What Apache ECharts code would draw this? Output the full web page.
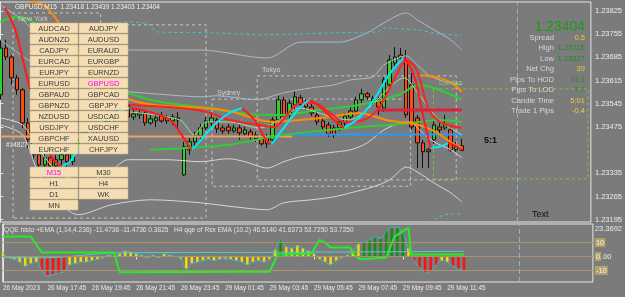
<!DOCTYPE html>
<html><head><meta charset="utf-8">
<script src="https://cdn.jsdelivr.net/npm/echarts/dist/echarts.min.js"></script>
<style>html,body{margin:0;padding:0;background:#7b7b7b;}#c{width:625px;height:297px;}</style>
</head><body><div id="c"></div>
<script>
// ---------- DATA ----------
const timeLabels = ['26 May 2023','26 May 17:45','26 May 19:45','26 May 21:45','26 May 23:45','29 May 01:45','29 May 03:45','29 May 05:45','29 May 07:45','29 May 09:45','29 May 11:45'];
const timeTickIdx = [0,8,16,24,32,40,48,56,64,72,80];
const priceTicks = [1.23195,1.23265,1.23335,1.23475,1.23545,1.23615,1.23685,1.23755,1.23825];
const lastPrice = 1.23404;
const nowBar = 93;
// candles: [open, close, low, high]
const candles = [
[1.23572,1.23713,1.23557,1.23738],[1.23713,1.23686,1.23677,1.23738],[1.23686,1.23623,1.23602,1.23692],[1.23623,1.23587,1.23572,1.23632],
[1.23587,1.23487,1.23472,1.23593],[1.23487,1.23436,1.23412,1.23502],[1.23436,1.23391,1.23376,1.23451],[1.23391,1.23360,1.23345,1.23406],
[1.23360,1.23382,1.23339,1.23400],[1.23382,1.23357,1.23330,1.23391],[1.23357,1.23376,1.23345,1.23391],[1.23376,1.23391,1.23360,1.23406],
[1.23391,1.23370,1.23351,1.23406],[1.23370,1.23406,1.23360,1.23421],[1.23406,1.23436,1.23397,1.23451],[1.23436,1.23460,1.23421,1.23472],
[1.23460,1.23442,1.23430,1.23472],[1.23442,1.23472,1.23436,1.23484],[1.23472,1.23490,1.23460,1.23502],[1.23490,1.23478,1.23466,1.23502],
[1.23478,1.23502,1.23472,1.23520],[1.23502,1.23520,1.23496,1.23532],[1.23520,1.23541,1.23511,1.23557],[1.23541,1.23505,1.23496,1.23566],
[1.23505,1.23514,1.23496,1.23532],[1.23511,1.23517,1.23499,1.23526],[1.23517,1.23487,1.23478,1.23526],[1.23487,1.23499,1.23481,1.23511],
[1.23493,1.23502,1.23475,1.23517],[1.23508,1.23493,1.23487,1.23520],[1.23493,1.23502,1.23484,1.23511],[1.23493,1.23505,1.23481,1.23514],
[1.23502,1.23496,1.23472,1.23520],[1.23330,1.23415,1.23327,1.23430],[1.23406,1.23430,1.23391,1.23442],[1.23430,1.23448,1.23418,1.23460],
[1.23448,1.23472,1.23436,1.23484],[1.23472,1.23493,1.23466,1.23505],[1.23487,1.23502,1.23478,1.23520],[1.23496,1.23469,1.23457,1.23502],
[1.23472,1.23463,1.23454,1.23481],[1.23475,1.23463,1.23454,1.23484],[1.23463,1.23472,1.23457,1.23481],[1.23472,1.23457,1.23436,1.23481],
[1.23454,1.23466,1.23448,1.23475],[1.23460,1.23445,1.23436,1.23469],[1.23451,1.23439,1.23430,1.23460],[1.23439,1.23424,1.23418,1.23451],
[1.23424,1.23442,1.23412,1.23454],[1.23436,1.23496,1.23430,1.23505],[1.23496,1.23557,1.23490,1.23569],[1.23557,1.23505,1.23496,1.23566],
[1.23511,1.23547,1.23502,1.23557],[1.23541,1.23566,1.23526,1.23584],[1.23563,1.23544,1.23535,1.23572],[1.23547,1.23535,1.23526,1.23557],
[1.23535,1.23517,1.23508,1.23544],[1.23511,1.23490,1.23481,1.23526],[1.23493,1.23475,1.23466,1.23502],[1.23481,1.23454,1.23445,1.23490],
[1.23472,1.23451,1.23442,1.23481],[1.23472,1.23490,1.23463,1.23502],[1.23487,1.23508,1.23478,1.23517],[1.23505,1.23523,1.23499,1.23535],
[1.23523,1.23557,1.23517,1.23566],[1.23557,1.23575,1.23547,1.23590],[1.23575,1.23566,1.23557,1.23581],[1.23547,1.23560,1.23538,1.23569],
[1.23557,1.23535,1.23511,1.23566],[1.23532,1.23617,1.23520,1.23626],[1.23602,1.23677,1.23593,1.23692],[1.23668,1.23686,1.23659,1.23716],
[1.23692,1.23683,1.23671,1.23713],[1.23677,1.23511,1.23502,1.23707],[1.23602,1.23475,1.23466,1.23638],[1.23502,1.23427,1.23351,1.23511],
[1.23427,1.23400,1.23351,1.23436],[1.23406,1.23400,1.23351,1.23412],[1.23436,1.23481,1.23424,1.23496],[1.23475,1.23466,1.23451,1.23487],
[1.23472,1.23481,1.23466,1.23511],[1.23466,1.23406,1.23400,1.23475],[1.23406,1.23415,1.23400,1.23430],[1.23418,1.23404,1.23403,1.23439]
];
// indicator lines: [bar index, price]
const bandUpperOuter = [[0,1.23843],[4,1.23798],[7,1.23753],[14,1.23713],[23,1.23707],[36,1.23707],[48,1.23683],[54,1.23731],[61,1.23731],[66,1.23759],[69,1.23789],[73,1.23819],[75,1.23798],[78,1.23768],[81,1.23738],[83,1.23707]];
const bandUpperInner = [[0,1.23738],[5,1.23677],[11,1.23617],[18,1.23587],[23,1.23581],[30,1.23572],[36,1.23566],[39,1.23569],[46,1.23557],[51,1.23578],[56,1.23593],[60,1.23602],[63,1.23617],[67,1.23626],[69,1.23662],[72,1.23686],[73,1.23689],[75,1.23662],[77,1.23632],[80,1.23611],[83,1.23602]];
const bandLowerInner = [[0,1.23502],[4,1.23481],[7,1.23406],[11,1.23330],[16,1.23315],[20,1.23345],[23,1.23376],[30,1.23376],[36,1.23370],[41,1.23379],[44,1.23370],[48,1.23351],[51,1.23370],[54,1.23385],[59,1.23397],[63,1.23406],[66,1.23427],[69,1.23466],[72,1.23487],[74,1.23490],[75,1.23472],[78,1.23430],[81,1.23406],[83,1.23382]];
const bandLowerOuter = [[0,1.23481],[4,1.23451],[7,1.23330],[11,1.23240],[14,1.23210],[20,1.23240],[27,1.23255],[36,1.23246],[42,1.23234],[48,1.23225],[51,1.23246],[56,1.23255],[60,1.23264],[63,1.23276],[67,1.23294],[70,1.23315],[72,1.23345],[73,1.23354],[75,1.23339],[78,1.23306],[81,1.23276],[83,1.23249]];
const envUpperDashed = [[18,1.23783],[23,1.23792],[27,1.23783],[28,1.23762],[38,1.23759],[48,1.23753],[60,1.23759],[68,1.23762],[69,1.23774],[72,1.23771],[75,1.23768],[78,1.23759],[83,1.23750]];
const envLowerDashed = [[72,1.23120],[80,1.23210],[83,1.23213]];
const fastRising = [
 [[11.1,1.23357],[12.5,1.23370],[14.3,1.23415],[16.1,1.23457],[17.9,1.23490],[20.6,1.23517],[23.3,1.23532]],
 [[34.4,1.23406],[35.8,1.23430],[38.5,1.23481],[41.2,1.23517],[43.5,1.23532]],
 [[48.7,1.23421],[50.7,1.23466],[53.8,1.23532],[55.6,1.23557]],
 [[61.8,1.23472],[64.5,1.23502],[67.2,1.23557],[69.9,1.23632],[72.6,1.23686]],
 [[77.4,1.23412],[78.9,1.23415],[80.6,1.23427]]
];
const fastFalling = [
 [[0.9,1.23834],[2.7,1.23768],[4.5,1.23647],[6.3,1.23526],[8.1,1.23421],[9.9,1.23370],[11.1,1.23357]],
 [[23.3,1.23532],[26.9,1.23520],[30.5,1.23496],[33.2,1.23436],[34.4,1.23406]],
 [[43.5,1.23532],[45.7,1.23496],[47.8,1.23436],[48.7,1.23421]],
 [[55.6,1.23557],[57.3,1.23538],[60,1.23496],[61.8,1.23472]],
 [[72.6,1.23686],[74.4,1.23632],[76.2,1.23496],[77.4,1.23412]],
 [[80.6,1.23427],[81.9,1.23418],[83,1.23406]]
];
const slowLine = [[23.3,1.23541],[32.3,1.23532],[37.1,1.23520],[41.2,1.23496],[46.6,1.23481],[49.3,1.23475],[52,1.23520],[53.8,1.23547],[56.5,1.23547],[59.1,1.23520],[61.8,1.23490],[65.4,1.23496],[68.1,1.23532],[70.8,1.23617],[73.1,1.23677],[74.9,1.23647],[77.1,1.23526],[79.4,1.23487],[83,1.23472]];
const paleMA = [[23.3,1.23520],[32.3,1.23496],[34.9,1.23451],[37.1,1.23490],[41.2,1.23490],[46.6,1.23472],[50.2,1.23496],[53.8,1.23532],[59.1,1.23508],[62.7,1.23496],[66.3,1.23532],[69.9,1.23593],[72.6,1.23623],[75.3,1.23572],[78.9,1.23496],[83,1.23451]];
const orangeMA = [[5.4,1.23852],[7.7,1.23843],[9.5,1.23813],[12.5,1.23738],[16.1,1.23647],[19.7,1.23587],[23.3,1.23557],[27.8,1.23541],[32.8,1.23535],[37.1,1.23532],[41.8,1.23520],[46.6,1.23496],[49.3,1.23490],[53.8,1.23496],[59.1,1.23505],[64.5,1.23517],[69.4,1.23496],[71.7,1.23490],[75.3,1.23481],[78.3,1.23460],[81.2,1.23427],[83,1.23412]];
const orangeShort = [[75.8,1.23632],[78.9,1.23623],[81.2,1.23608],[83,1.23581]];
const greenSlow = [[0,1.23792],[2.7,1.23807],[5.4,1.23798],[10.8,1.23722],[17.9,1.23617],[26.9,1.23557],[35.8,1.23535],[44.8,1.23514],[50.2,1.23511],[57.3,1.23526],[64.5,1.23541],[71.7,1.23572],[75.3,1.23602],[78.9,1.23587],[83,1.23557]];
const greenLow = [[26.9,1.23406],[34.1,1.23412],[41.2,1.23421],[48.9,1.23445],[55.6,1.23460],[62.7,1.23472],[69.9,1.23481],[75.3,1.23490],[78.9,1.23496],[83,1.23490]];
const pivotFriday = [[0,1.23446],[52.5,1.23446]];
const pivotMonday = [[52.5,1.23452],[83,1.23452]];
const dayLevelRed = [[68,1.23526],[83,1.23526]];
// session boxes [bar index, price]
const boxNewYork = [[2.3,1.23200],[2.3,1.23819],[18.05,1.23819],[18.05,1.23783],[37,1.23783],[37,1.23200],[2.3,1.23200]];
const boxSydney = [[38.1,1.23559],[73.8,1.23559],[73.8,1.23296],[38.1,1.23296],[38.1,1.23559]];
const boxTokyo = [[46.2,1.23629],[82,1.23629],[82,1.23315],[46.2,1.23315],[46.2,1.23629]];
const boxLondon = [[77.9,1.23590],[105.7,1.23590],[105.7,1.23318],[77.9,1.23318],[77.9,1.23590]];
// lower pane: QQE histogram
const qqeHisto = [3,-1,-2,-4,-7,-5,-4,-10,-14,-13,-12,-11,-6,-5,-4,-4,-3,-2,-1,1,0,2,4,3,2,1,-1,1,-1,2,1,0,-1,-9,-5,-4,-3,-2,-3,-2,-1,-2,-3,-4,-6,-4,-3,-4,-2,5,12,7,6,8,6,4,2,-2,-4,-6,-3,-1,1,4,9,10,12,14,13,18,21,21,17,6,-3,-8,-12,-11,-6,-3,-4,-7,-9,-10];
// 0 neutral, 1 bearish, 2 bullish
const qqeState = [0,0,0,0,0,0,0,1,1,1,1,1,0,0,0,0,0,0,0,0,0,0,0,0,0,0,0,0,0,0,0,0,0,0,0,0,0,0,0,0,0,0,0,0,0,0,0,0,0,0,2,0,0,0,0,0,0,0,0,0,0,0,0,0,0,2,2,2,2,2,2,2,2,0,1,1,1,1,1,0,0,1,1,1];
const qqeTrail = [[0,14.3],[5,14.3],[7,2.9],[20,2.9],[21,-11.4],[48,-11],[49.5,1.4],[55.5,2],[57,12],[58,10],[59,6.4],[62.5,6.4],[63.5,0],[64.5,-2],[69,-0.7],[70.5,14.3],[73,20.7],[73.5,1.4],[83,1.4]];
const qqeSignal = [[0,-0.7],[7,-1],[12,0],[20,2.6],[50,3],[83,3.7]];
const qqeLevels = [10,0,-10];
const qqeRange = [-18.3696, 23.3692];
// panels
const symbols = ['AUDCAD','AUDJPY','AUDNZD','AUDUSD','CADJPY','EURAUD','EURCAD','EURGBP','EURJPY','EURNZD','EURUSD','GBPUSD','GBPAUD','GBPCAD','GBPNZD','GBPJPY','NZDUSD','USDCAD','USDJPY','USDCHF','GBPCHF','XAUUSD','EURCHF','CHFJPY'];
const timeframes = ['M15','M30','H1','H4','D1','WK','MN'];
const activeSymbol = 'GBPUSD', activeTf = 'M15';
const infoLabels = ['Spread','High','Low','Net Chg','Pips To HOD','Pips To LOD','Candle Time','Trade 1 Pips'];
const infoValues = ['0.5','1.23716','1.23327','39','31.1','7.7','5:01','-0.4'];
const infoKind = ['y','g','g','y','g','g','y','y'];
const headerText = 'GBPUSD,M15  1.23418 1.23439 1.23403 1.23404';
const qqeHeader = 'QQE histo +EMA (1,14,4.236) -11.4736 -11.4736 0.3825   H4 qqe of Rsx EMA (10.2) 46.5140 41.6373 53.7250 53.7250';

// ---------- CHART ----------
const FONT = '"Liberation Sans", Arial, sans-serif';
const chart = echarts.init(document.getElementById('c'), null, {renderer:'canvas'});
const XMIN = -0.054, XMAX = 106.22;
const lineS = (data, color, width, extra) => Object.assign({type:'line', xAxisIndex:0, yAxisIndex:0, data, showSymbol:false, symbol:'none', smooth:0.3, lineStyle:{color, width}, silent:true, z:3, clip:true}, extra||{});
const series = [];
series.push(lineS(bandUpperOuter,'#a8bccf',1));
series.push(lineS(bandUpperInner,'#a8bccf',1));
series.push(lineS(bandLowerInner,'#d6d6d6',1));
series.push(lineS(bandLowerOuter,'#d6d6d6',1));
series.push(lineS(envUpperDashed,'#3cc8c8',1,{lineStyle:{color:'#3cc8c8',width:1,type:[3,3]}}));
series.push(lineS(envLowerDashed,'#3cc8c8',1,{lineStyle:{color:'#3cc8c8',width:1,type:[3,3]}}));
series.push(lineS(pivotFriday,'#f0a060',2,{smooth:false}));
series.push(lineS(pivotMonday,'#1e9cff',2,{smooth:false}));
series.push(lineS(greenLow,'#33cc33',2));
series.push(lineS(greenSlow,'#33cc33',2));
series.push(lineS(paleMA,'#a6dca0',1));
series.push(lineS(orangeMA,'#ff8c00',2));
series.push(lineS(orangeShort,'#ff8c00',2));
series.push(lineS(slowLine,'#ff2020',2));
fastRising.forEach(seg=>series.push(lineS(seg,'#00e8ff',2)));
fastFalling.forEach(seg=>series.push(lineS(seg,'#ff1a1a',2)));
series.push(lineS(dayLevelRed,'#e0203a',3,{smooth:false}));
const boxStyle = (data,color)=>lineS(data,color,1,{smooth:false,lineStyle:{color,width:1,type:[3,3]},z:2});
series.push(boxStyle(boxNewYork,'#c8c8c8'));
series.push(boxStyle(boxSydney,'#c8c8c8'));
series.push(boxStyle(boxTokyo,'#c8c8c8'));
series.push(boxStyle(boxLondon,'#7fc24a'));
series.push({
  type:'candlestick', xAxisIndex:0, yAxisIndex:0, z:2,
  data: candles.map((c,i)=>[i,c[0],c[1],c[2],c[3]]),
  encode:{x:0,y:[1,2,3,4]}, barWidth:4,
  itemStyle:{color:'#2fd12f',color0:'#ff4a12',borderColor:'#111',borderColor0:'#111',borderWidth:1},
  markLine:{silent:true,symbol:'none',animation:false,data:[
    {yAxis:lastPrice, lineStyle:{color:'#35b035',type:[4,3],width:1},
     label:{show:true,position:'end',formatter:()=>lastPrice.toFixed(5),backgroundColor:'#ececdc',color:'#444',fontSize:7.5,fontFamily:FONT,padding:[1,2,1,2],distance:2}},
    {xAxis:nowBar, lineStyle:{color:'#8fb3d6',type:[5,3],width:1}, label:{show:false}}
  ]}
});
// lower pane
const stateColor = ['#ffd800','#ff1010','#168c16'];
series.push({type:'bar', xAxisIndex:1, yAxisIndex:1, data: qqeHisto.map((v,i)=>[i,v]), barWidth:2.5,
  itemStyle:{color:p=>stateColor[qqeState[p.dataIndex]]}, silent:true, z:2,
  markLine:{silent:true,symbol:'none',animation:false,label:{show:false},
    data:[...qqeLevels.map(v=>({yAxis:v,lineStyle:{color:'#a8946a',type:'solid',width:1}})),{xAxis:nowBar,lineStyle:{color:'#8fb3d6',type:[5,3],width:1}}]}});
series.push({type:'line', xAxisIndex:1, yAxisIndex:1, data: qqeHisto.map((v,i)=>[i,v]), symbol:'none', smooth:0.3, lineStyle:{color:'#40b8b8',width:1}, silent:true, z:3});
series.push({type:'line', xAxisIndex:1, yAxisIndex:1, data: qqeSignal, symbol:'none', smooth:0.3, lineStyle:{color:'#4cd0d0',width:1}, silent:true, z:3});
series.push({type:'line', xAxisIndex:1, yAxisIndex:1, data: qqeTrail, symbol:'none', smooth:false, lineStyle:{color:'#22ee22',width:2}, silent:true, z:4});

// graphics: buttons, info
const g = [];
function btn(x,y,w,h,label,active){
  g.push({type:'rect',shape:{x,y,width:w,height:h},style:{fill:'#f5deb3',stroke:'#cdb78f',lineWidth:0.6},z:100});
  g.push({type:'text',x:x+w/2,y:y+h/2+0.5,style:{text:label,fill:active?'#ff00ff':'#3a3a3a',font:'7.5px '+FONT,align:'center',verticalAlign:'middle'},z:101});
}
symbols.forEach((s,k)=>{const r=Math.floor(k/2),c=k%2; btn(c?79:30,23+r*11,c?49:48,10,s,s===activeSymbol);});
timeframes.forEach((s,k)=>{const r=Math.floor(k/2),c=k%2; btn(c?79:30,167+r*11,c?49:48,10,s,s===activeTf);});
const txt=(x,y,text,fill,size,align,extra)=>g.push(Object.assign({type:'text',x,y,style:{text,fill,font:(size)+'px '+FONT,align:align||'left',verticalAlign:'middle'},z:110},extra||{}));
txt(585,27,lastPrice.toFixed(5),'#1c9a1c',14,'right');
infoLabels.forEach((l,k)=>{const y=37.5+k*10.5; txt(554,y,l,'#d8d8d8',7.6,'right'); txt(585,y,infoValues[k],infoKind[k]==='g'?'#1f8f1f':'#e8d030',7.6,'right');});
txt(15,7,headerText,'#f4f4f4',6.5,'left');
txt(18,19,'New York','#cfcfcf',7,'left');
txt(217,93,'Sydney','#cfcfcf',7,'left');
txt(262,70,'Tokyo','#cfcfcf',7,'left');
txt(439,83,'London','#98c070',7,'left');
txt(6,145,'#14827','#e8e8e8',6.5,'left');
g.push({type:'text',x:484,y:141,style:{text:'5:1',fill:'#111',font:'bold 9px '+FONT,align:'left',verticalAlign:'middle'},z:110});
txt(532,215,'Text','#111',9,'left');
txt(4,230,qqeHeader,'#e4e4e4',6.6,'left');

const axisTxt = {color:'#ececec',fontSize:7.5,fontFamily:FONT};
const option = {
  animation:false,
  backgroundColor:'#7b7b7b',
  grid:[
    {left:0,top:2,width:593,height:220,show:true,borderColor:'#e6e6e6',borderWidth:1,backgroundColor:'transparent'},
    {left:0,top:224,width:593,height:58,show:true,borderColor:'#e6e6e6',borderWidth:1,backgroundColor:'transparent'}
  ],
  xAxis:[
    {type:'value',gridIndex:0,min:XMIN,max:XMAX,axisLine:{show:false},axisTick:{show:false},axisLabel:{show:false},splitLine:{show:false}},
    {type:'value',gridIndex:1,min:XMIN,max:XMAX,axisLine:{show:true,lineStyle:{color:'#e6e6e6'}},
     axisTick:{show:true,customValues:timeTickIdx,length:3,lineStyle:{color:'#e6e6e6'}},
     axisLabel:{show:true,customValues:timeTickIdx,align:'left',margin:3,hideOverlap:false,color:'#ececec',fontSize:6.4,fontFamily:FONT,formatter:v=>timeLabels[timeTickIdx.indexOf(Math.round(v))]||''},
     splitLine:{show:false}}
  ],
  yAxis:[
    {type:'value',gridIndex:0,position:'right',min:1.23188,max:1.23852,scale:true,
     axisLine:{show:true,lineStyle:{color:'#e6e6e6'}},axisTick:{show:true,customValues:priceTicks,length:3,lineStyle:{color:'#e6e6e6'}},
     axisLabel:Object.assign({show:true,customValues:priceTicks,margin:4,formatter:v=>v.toFixed(5)},axisTxt),splitLine:{show:false}},
    {type:'value',gridIndex:1,position:'right',min:qqeRange[0],max:qqeRange[1],
     axisLine:{show:true,lineStyle:{color:'#e6e6e6'}},axisTick:{show:false},
     axisLabel:Object.assign({show:true,customValues:[qqeRange[0],-10,0,10,qqeRange[1]],margin:2,
       formatter:v=>{ if(Math.abs(v-qqeRange[1])<1e-6) return '{t|'+v.toFixed(4)+'}'; if(Math.abs(v-qqeRange[0])<1e-6) return '{m|'+v.toFixed(4)+'}';
         if(v===0) return '{b|0}.00'; return '{b|'+v+'}'; },
       rich:{t:{padding:[10,0,0,0],color:'#ececec',fontSize:7.5},m:{padding:[0,0,10,0],color:'#ececec',fontSize:7.5},b:{backgroundColor:'#b4a268',color:'#f4f4f4',fontSize:7.5,padding:[1,1,0,1]}}},axisTxt),
     splitLine:{show:false}}
  ],
  series,
  graphic:g
};
chart.setOption(option);
</script></body></html>
